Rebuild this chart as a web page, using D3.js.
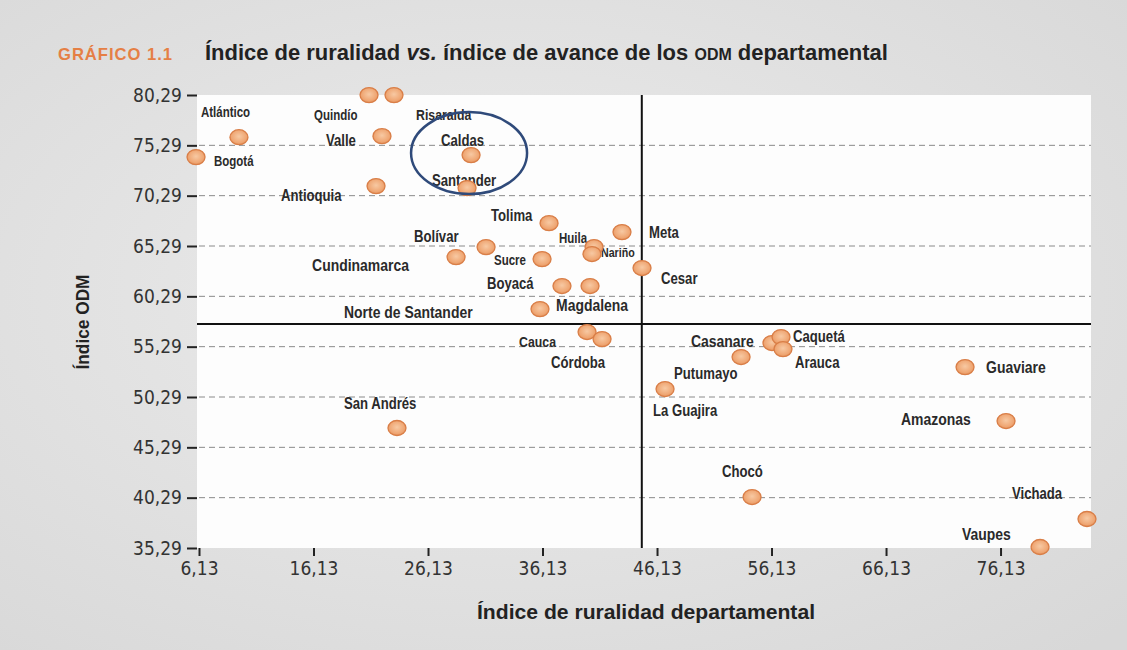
<!DOCTYPE html>
<meta charset="utf-8">
<style>
  body { margin: 0; }
  svg { display: block; font-family: "Liberation Sans", Arial, sans-serif; }
  .axis path.domain { display: none; }
  .axis line { stroke: #222; stroke-width: 2; }
  .axis text { fill: #333; font-size: 19px; font-family: "DejaVu Sans Condensed", "Liberation Sans", sans-serif; }
  .grid line { stroke: #8a8a8a; stroke-dasharray: 6,4; stroke-width: 1; }
  .quad { stroke: #111; stroke-width: 2; }
  .dept { stroke: #d97e47; stroke-width: 1.3; }
  .lbl { fill: #2a2a2a; font-weight: bold; }
</style>
<body>
<script src="https://cdn.jsdelivr.net/npm/d3@7"></script>
<script>
// departamentos
var departments = ["Atlántico", "Bogotá", "Quindío", "Risaralda", "Valle", "Caldas", "Santander",
  "Antioquia", "Tolima", "Meta", "Bolívar", "Cundinamarca", "Sucre", "Huila", "Nariño", "Cesar",
  "Boyacá", "Magdalena", "Norte de Santander", "Cauca", "Córdoba", "Casanare", "Caquetá", "Arauca",
  "Putumayo", "La Guajira", "Guaviare", "Amazonas", "San Andrés", "Chocó", "Vichada", "Vaupes"];

// índice de ruralidad (x)
var ruralidad = [9.62, 5.87, 20.98, 23.16, 22.11, 29.89, 29.54,
  21.59, 36.70, 43.07, 31.20, 28.58, 36.09, 40.63, 40.45, 44.82,
  37.83, 40.28, 35.91, 40.02, 41.33, 56.17, 56.96, 57.13,
  53.47, 46.83, 73.03, 76.61, 23.42, 54.43, 83.68, 79.58];

// índice ODM (y)
var odm = [76.10, 74.12, 80.28, 80.28, 76.20, 74.32, 71.04,
  71.24, 67.56, 66.67, 65.18, 64.19, 63.99, 65.18, 64.49, 63.10,
  61.31, 61.31, 59.02, 56.74, 56.04, 55.65, 56.24, 55.05,
  54.26, 51.08, 53.26, 47.90, 47.21, 40.35, 38.17, 35.39];

var xTicks = [6.13, 16.13, 26.13, 36.13, 46.13, 56.13, 66.13, 76.13];
var yTicks = [35.29, 40.29, 45.29, 50.29, 55.29, 60.29, 65.29, 70.29, 75.29, 80.29];

// promedios que dividen los cuadrantes
var meanRuralidad = 44.8;
var meanOdm = 57.53;

// label placement (px offset from the point, font size)
var labelPos = {
  "Atlántico": [-38, -25, 14], "Bogotá": [18, 4, 14], "Quindío": [-55, 20, 14], "Risaralda": [22, 19, 15],
  "Valle": [-56, 4, 16], "Caldas": [-30, -15, 16], "Santander": [-35, -8, 16], "Antioquia": [-95, 9, 16],
  "Tolima": [-58, -8, 16], "Meta": [27, 0, 16], "Bolívar": [-72, -11, 16], "Cundinamarca": [-144, 8, 17],
  "Sucre": [-48, 1, 14], "Huila": [-35, -9, 14], "Nariño": [9, -2, 13], "Cesar": [19, 10, 16],
  "Boyacá": [-75, -3, 16], "Magdalena": [-34, 19, 17], "Norte de Santander": [-196, 3, 17],
  "Cauca": [-68, 9, 15], "Córdoba": [-51, 23, 16], "Casanare": [-81, -2, 17], "Caquetá": [12, -1, 16],
  "Arauca": [12, 13, 16], "Putumayo": [-67, 16, 16], "La Guajira": [-12, 21, 16], "Guaviare": [21, 0, 17],
  "Amazonas": [-105, -2, 17], "San Andrés": [-53, -25, 16], "Chocó": [-30, -26, 16],
  "Vichada": [-75, -26, 16], "Vaupes": [-78, -12, 17]
};

var width = 1127, height = 650;
var plot = { left: 199, right: 1091, top: 95, bottom: 548 };
var narrow = 0.82; // Arial -> Arial Narrow width

var x = d3.scaleLinear().domain([6.13, 84.03]).range([plot.left, plot.right]);
var y = d3.scaleLinear().domain([35.29, 80.29]).range([plot.bottom, plot.top]);

var es = d3.formatLocale({ decimal: ",", thousands: ".", grouping: [3], currency: ["", " €"] });
var fmt = es.format(".2f");

// squeeze a text element horizontally, like a condensed face
function condense(k) {
  return function () {
    var w = this.getComputedTextLength();
    this.setAttribute("textLength", w * k);
    this.setAttribute("lengthAdjust", "spacingAndGlyphs");
  };
}

function fitTo(w) {
  return function () {
    this.setAttribute("textLength", w);
    this.setAttribute("lengthAdjust", "spacingAndGlyphs");
  };
}

var svg = d3.select("body").append("svg")
  .attr("width", width)
  .attr("height", height);

var defs = svg.append("defs");
var paper = defs.append("radialGradient").attr("id", "paper").attr("cx", "45%").attr("cy", "45%").attr("r", "75%");
paper.append("stop").attr("offset", "0%").attr("stop-color", "#ececec");
paper.append("stop").attr("offset", "100%").attr("stop-color", "#d8d8d8");

var dot = defs.append("radialGradient").attr("id", "dot").attr("cx", "50%").attr("cy", "45%").attr("r", "60%");
dot.append("stop").attr("offset", "0%").attr("stop-color", "#f7c9a3");
dot.append("stop").attr("offset", "70%").attr("stop-color", "#efa673");
dot.append("stop").attr("offset", "100%").attr("stop-color", "#e08a52");

svg.append("rect").attr("width", width).attr("height", height).attr("fill", "url(#paper)");

// plot area
svg.append("rect")
  .attr("x", plot.left - 2)
  .attr("y", plot.top)
  .attr("width", plot.right - plot.left + 2)
  .attr("height", plot.bottom - plot.top)
  .attr("fill", "#fdfdfd");

// dashed grid
svg.append("g").attr("class", "grid")
  .selectAll("line")
  .data(yTicks.slice(1, -1))
  .enter().append("line")
  .attr("x1", plot.left).attr("x2", plot.right)
  .attr("y1", function (d) { return y(d); })
  .attr("y2", function (d) { return y(d); });

// quadrant lines
svg.append("line").attr("class", "quad")
  .attr("x1", x(meanRuralidad)).attr("x2", x(meanRuralidad))
  .attr("y1", plot.top).attr("y2", plot.bottom);
svg.append("line").attr("class", "quad")
  .attr("x1", plot.left - 2).attr("x2", plot.right)
  .attr("y1", y(meanOdm)).attr("y2", y(meanOdm));

// axes
svg.append("g").attr("class", "axis")
  .attr("transform", "translate(" + (plot.left - 2) + ",0)")
  .call(d3.axisLeft(y).tickValues(yTicks).tickFormat(fmt).tickSize(10).tickPadding(5));

svg.append("g").attr("class", "axis")
  .attr("transform", "translate(0," + plot.bottom + ")")
  .call(d3.axisBottom(x).tickValues(xTicks).tickFormat(fmt).tickSize(8).tickPadding(6));

var data = departments.map(function (d, i) {
  return { name: d, rural: ruralidad[i], odm: odm[i] };
});

// labels
svg.append("g").selectAll("text")
  .data(data)
  .enter().append("text")
  .attr("class", "lbl")
  .attr("x", function (d) { return x(d.rural) + labelPos[d.name][0]; })
  .attr("y", function (d) { return y(d.odm) + labelPos[d.name][1]; })
  .attr("dominant-baseline", "central")
  .style("font-size", function (d) { return labelPos[d.name][2] + "px"; })
  .text(function (d) { return d.name; })
  .each(condense(narrow));

// points
svg.append("g").selectAll("ellipse")
  .data(data)
  .enter().append("ellipse")
  .attr("class", "dept")
  .attr("cx", function (d) { return x(d.rural); })
  .attr("cy", function (d) { return y(d.odm); })
  .attr("rx", 9)
  .attr("ry", 7.5)
  .attr("fill", "url(#dot)");

// highlight around Caldas / Santander
var caldas = data[departments.indexOf("Caldas")];
svg.append("ellipse")
  .attr("cx", x(caldas.rural) - 2)
  .attr("cy", y(caldas.odm) - 2)
  .attr("rx", 58)
  .attr("ry", 41)
  .attr("fill", "none")
  .attr("stroke", "#2f4a7a")
  .attr("stroke-width", 2.5);

// titles
svg.append("text")
  .attr("x", 58).attr("y", 60)
  .style("font-size", "17px").style("font-weight", "bold").style("letter-spacing", "1px")
  .attr("fill", "#e57f45")
  .text("GRÁFICO 1.1")
  .each(fitTo(115));

// main title: segments laid out one after another, then squeezed to the reference width
var titleParts = [
  { t: "Índice de ruralidad ", s: "normal", f: 22 },
  { t: "vs.", s: "italic", f: 22 },
  { t: " índice de avance de los ", s: "normal", f: 22 },
  { t: "ODM", s: "normal", f: 16 },
  { t: " departamental", s: "normal", f: 22 }
];
var tg = svg.append("g");
var cursor = 0;
titleParts.forEach(function (p) {
  var node = tg.append("text")
    .attr("x", cursor).attr("y", 0)
    .attr("fill", "#222")
    .style("font-size", p.f + "px").style("font-weight", "bold").style("font-style", p.s)
    .style("white-space", "pre")
    .attr("xml:space", "preserve")
    .text(p.t).node();
  cursor += node.getComputedTextLength();
});
tg.attr("transform", "translate(205,60) scale(" + (683 / cursor) + ",1)");

svg.append("text")
  .attr("transform", "translate(89,322) rotate(-90)")
  .attr("text-anchor", "middle")
  .style("font-size", "19px").style("font-weight", "bold")
  .attr("fill", "#222")
  .text("Índice ODM")
  .each(fitTo(95));

svg.append("text")
  .attr("x", 646).attr("y", 619)
  .attr("text-anchor", "middle")
  .style("font-size", "21px").style("font-weight", "bold")
  .attr("fill", "#222")
  .text("Índice de ruralidad departamental")
  .each(fitTo(338));
</script>
</body>
